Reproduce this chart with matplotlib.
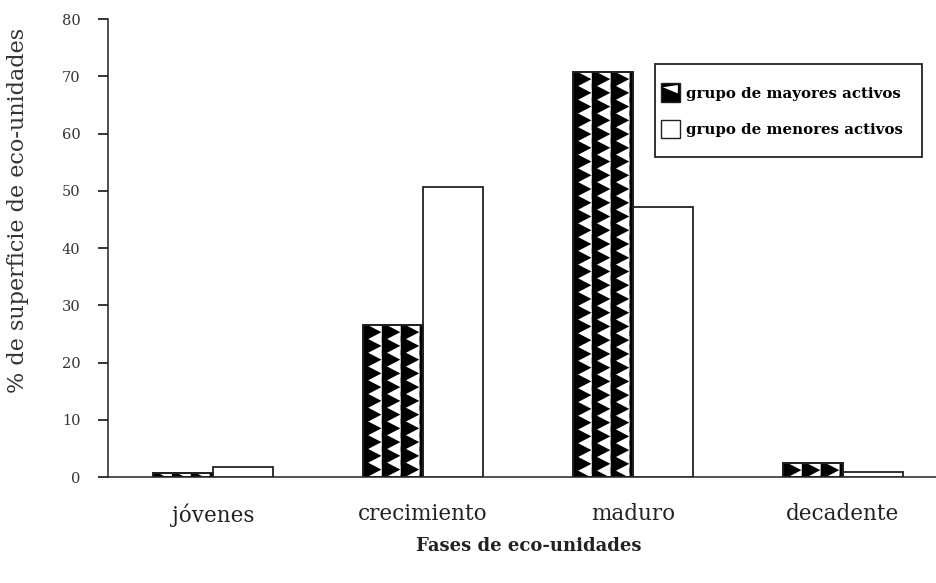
import matplotlib
matplotlib.use("Agg")
from matplotlib import pyplot as plt
from matplotlib.patches import Rectangle, Polygon, Patch
from matplotlib.legend_handler import HandlerPatch
import numpy as np

# Data
fases = ["jóvenes", "crecimiento", "maduro", "decadente"]
mayores = [0.7, 26.5, 70.7, 2.4]
menores = [1.8, 50.7, 47.2, 0.8]
y_ticks = [0, 10, 20, 30, 40, 50, 60, 70, 80]

plt.rcParams["font.family"] = ["DejaVu Serif"]

fig = plt.figure(figsize=(9.37, 5.83), dpi=100)
ax = fig.add_axes([0.1153, 0.1818, 0.8847, 0.7856])

x = np.arange(len(fases))
w = 0.286

bars_may = ax.bar(x - w / 2, mayores, w, facecolor="white", edgecolor="#222222", linewidth=1.3, zorder=3)
bars_men = ax.bar(x + w / 2, menores, w, facecolor="white", edgecolor="#222222", linewidth=1.3, zorder=3)

# Arrow pattern for the "mayores" bars: black triangles pointing right
cw, ch = 0.09, 2.4
for bar in bars_may:
    x0, h = bar.get_x(), bar.get_height()
    ncol = int(np.ceil(bar.get_width() / cw))
    nrow = int(np.ceil(h / ch)) + 1
    for j in range(ncol):
        for k in range(nrow):
            xl = x0 + j * cw
            yb = h - (k + 1) * ch
            tri = Polygon([(xl, yb - 0.2 * ch), (xl, yb + 1.2 * ch), (xl + 0.98 * cw, yb + 0.5 * ch)],
                          closed=True, facecolor="black", edgecolor="none", zorder=3.5)
            ax.add_patch(tri)
            tri.set_clip_path(bar)
    edge = Rectangle((x0, 0), bar.get_width(), h, facecolor="none", edgecolor="#222222", linewidth=1.3, zorder=4)
    ax.add_patch(edge)

ax.set_xlim(-0.5, 3.448)
ax.set_ylim(0, 80)
ax.set_yticks(y_ticks)
ax.set_xticks(x)
ax.set_xticklabels(fases, fontsize=15.5, color="#222222")
ax.tick_params(axis="x", length=0, pad=19)
ax.tick_params(axis="y", direction="out", length=7, width=1.1, labelsize=10.5, pad=13, labelcolor="#333333")
ax.spines["top"].set_visible(False)
ax.spines["right"].set_visible(False)
ax.spines["left"].set_linewidth(1.1)
ax.spines["bottom"].set_linewidth(1.1)
ax.spines["left"].set_color("#222222")
ax.spines["bottom"].set_color("#222222")


class HandlerArrow(HandlerPatch):
    def create_artists(self, legend, orig_handle, xdescent, ydescent, width, height, fontsize, trans):
        s = 13.5
        x0, y0 = -xdescent, -ydescent + height / 2 - s / 2
        sq = Rectangle((x0, y0), s, s, facecolor="black", edgecolor="#222222", linewidth=1.0, transform=trans)
        tri = Polygon([(x0 + 0.1 * s, y0 + 0.78 * s), (x0 + 0.9 * s, y0 + 0.9 * s), (x0 + 0.9 * s, y0 + 0.45 * s)],
                      closed=True, facecolor="white", edgecolor="none", transform=trans)
        return [sq, tri]


class HandlerBox(HandlerPatch):
    def create_artists(self, legend, orig_handle, xdescent, ydescent, width, height, fontsize, trans):
        s = 13.5
        x0, y0 = -xdescent, -ydescent + height / 2 - s / 2
        sq = Rectangle((x0, y0), s, s, facecolor="white", edgecolor="#222222", linewidth=1.0, transform=trans)
        return [sq]


# legend frame drawn separately so the padding can match the original
frame = Rectangle((655 / 937, 1 - 157 / 583), 267 / 937, 93 / 583, transform=fig.transFigure,
                  facecolor="white", edgecolor="#222222", linewidth=1.3, zorder=5)
fig.add_artist(frame)

h1 = Patch(label="grupo de mayores activos")
h2 = Patch(label="grupo de menores activos")
leg = fig.legend(handles=[h1, h2], handler_map={h1: HandlerArrow(), h2: HandlerBox()},
                 loc="center left", bbox_to_anchor=(661 / 937, 1 - 112 / 583), bbox_transform=fig.transFigure,
                 prop={"weight": "bold", "size": 10.8}, frameon=False,
                 handlelength=1.3, handletextpad=0.35, labelspacing=1.5,
                 borderpad=0, borderaxespad=0)
leg.set_zorder(6)

fig.text(18 / 937, 1 - 210 / 583, "% de superficie de eco-unidades", rotation=90,
         ha="center", va="center", fontsize=16, color="#333333")
fig.text(529 / 937, 1 - 546 / 583, "Fases de eco-unidades", ha="center", va="center",
         fontsize=13, fontweight="bold", color="#222222")

fig.savefig("out.png", dpi=100)
